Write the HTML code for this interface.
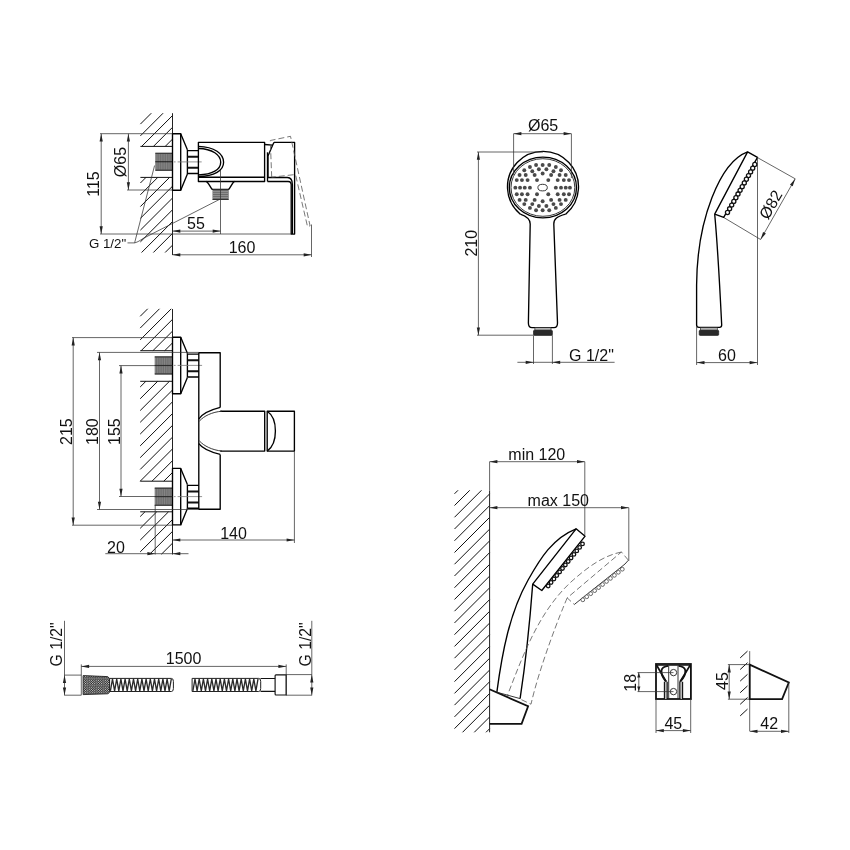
<!DOCTYPE html>
<html><head><meta charset="utf-8"><style>
html,body{margin:0;padding:0;background:#fff;}
svg{display:block;will-change:transform;}
text{font-family:"Liberation Sans",sans-serif;fill:#111;}
.o{stroke:#000;stroke-width:1.35;fill:none;stroke-linejoin:round;}
.o2{stroke:#222;stroke-width:1.0;fill:none;}
.o5{stroke:#111;stroke-width:1.8;fill:none;}
.o4{stroke:#111;stroke-width:1.15;fill:none;}
.o3{stroke:#222;stroke-width:0.9;fill:none;}
.d{stroke:#333;stroke-width:0.75;fill:none;}
.h{stroke:#111;stroke-width:1.0;fill:none;}
.ar{fill:#222;stroke:none;}
.nd{stroke:#111;stroke-width:2.0;fill:none;}
.cl{stroke:#777;stroke-width:0.8;stroke-dasharray:1.8 2 26 100;}
.dash{stroke:#555;stroke-width:0.8;fill:none;stroke-dasharray:6 3;}
.dash2{stroke:#666;stroke-width:0.8;fill:none;}
.th{fill:#6a6a6a;stroke:none;}
.thb{stroke:#111;stroke-width:0.9;}
.thl2{stroke:#b0b0b0;stroke-width:0.6;}
.thl{stroke:#a8a8a8;stroke-width:0.45;}
.kn{fill:url(#knp);stroke:#222;stroke-width:0.9;}
.hs{fill:#fff;stroke:#222;stroke-width:1.0;}
.hl{stroke:#2a2a2a;stroke-width:1.35;fill:none;stroke-linejoin:round;}
.noz{stroke:#111;stroke-width:1.3;fill:#fff;}
.noz2{stroke:#444;stroke-width:0.8;fill:#fff;}
.cb1{fill:#c8c8c8;stroke:#333;stroke-width:0.7;}
.cb2{fill:#2a2a2a;stroke:#111;stroke-width:0.6;}
.gb{fill:#bbb;stroke:none;}
.dot{fill:#4a4a4a;}
</style></head><body>
<svg width="850" height="850" viewBox="0 0 850 850">
<defs><pattern id="knp" width="2.3" height="2.3" patternUnits="userSpaceOnUse"><rect width="2.3" height="2.3" fill="#1a1a1a"/><circle cx="0.58" cy="0.58" r="0.55" fill="#fff"/><circle cx="1.73" cy="1.73" r="0.55" fill="#fff"/></pattern></defs>
<rect width="850" height="850" fill="#fff"/>
<line x1="140.40" y1="124.10" x2="151.30" y2="113.20" class="h"/>
<line x1="140.40" y1="135.88" x2="163.08" y2="113.20" class="h"/>
<line x1="141.66" y1="146.40" x2="172.50" y2="115.56" class="h"/>
<line x1="153.44" y1="146.40" x2="172.50" y2="127.34" class="h"/>
<line x1="165.22" y1="146.40" x2="172.50" y2="139.12" class="h"/>
<line x1="140.40" y1="183.00" x2="146.00" y2="177.40" class="h"/>
<line x1="140.40" y1="194.78" x2="157.78" y2="177.40" class="h"/>
<line x1="140.40" y1="206.56" x2="169.56" y2="177.40" class="h"/>
<line x1="140.40" y1="218.34" x2="172.50" y2="186.24" class="h"/>
<line x1="140.40" y1="230.12" x2="172.50" y2="198.02" class="h"/>
<line x1="140.40" y1="241.90" x2="172.50" y2="209.80" class="h"/>
<line x1="141.58" y1="252.50" x2="172.50" y2="221.58" class="h"/>
<line x1="153.36" y1="252.50" x2="172.50" y2="233.36" class="h"/>
<line x1="165.14" y1="252.50" x2="172.50" y2="245.14" class="h"/>
<line x1="140.40" y1="146.40" x2="172.50" y2="146.40" class="h"/>
<line x1="140.40" y1="177.40" x2="172.50" y2="177.40" class="h"/>
<line x1="172.50" y1="113.20" x2="172.50" y2="255.00" class="o2"/>
<rect x="155.30" y="153.20" width="17.20" height="17.10" class="th" />
<line x1="156.16" y1="154.00" x2="156.16" y2="169.50" class="thl"/>
<line x1="157.88" y1="154.00" x2="157.88" y2="169.50" class="thl"/>
<line x1="159.60" y1="154.00" x2="159.60" y2="169.50" class="thl"/>
<line x1="161.32" y1="154.00" x2="161.32" y2="169.50" class="thl"/>
<line x1="163.04" y1="154.00" x2="163.04" y2="169.50" class="thl"/>
<line x1="164.76" y1="154.00" x2="164.76" y2="169.50" class="thl"/>
<line x1="166.48" y1="154.00" x2="166.48" y2="169.50" class="thl"/>
<line x1="168.20" y1="154.00" x2="168.20" y2="169.50" class="thl"/>
<line x1="169.92" y1="154.00" x2="169.92" y2="169.50" class="thl"/>
<line x1="171.64" y1="154.00" x2="171.64" y2="169.50" class="thl"/>
<line x1="155.30" y1="153.20" x2="172.50" y2="153.20" class="thb"/>
<line x1="155.30" y1="170.30" x2="172.50" y2="170.30" class="thb"/>
<line x1="155.30" y1="161.75" x2="172.50" y2="161.75" class="thb"/>
<path d="M172.5 133.70000000000002 H180.7 V190.20000000000002 H172.5 Z" class="o" />
<path d="M180.7 133.70000000000002 L187.4 149.70000000000002 M180.7 190.20000000000002 L187.4 173.9" class="o" />
<path d="M187.4 150.6 H198.4 M187.4 173.5 H198.4 M187.4 149.70000000000002 V173.9" class="o" />
<path d="M187.4 156.70000000000002 H198.4 M187.4 167.70000000000002 H198.4" class="nd" />
<line x1="173.80" y1="161.90" x2="201.70" y2="161.90" class="cl"/>
<path d="M198.4 142.4 H264.6 V181.5 H198.4 Z" class="o" />
<line x1="198.40" y1="177.20" x2="264.60" y2="177.20" class="o"/>
<path d="M198.4 146.3 C214.5 146.6 223.6 154 223.6 162.2 C223.6 170.4 214.5 176.3 198.4 176.5" class="o" />
<path d="M198.4 148.5 C212.5 148.8 220.7 155 220.7 162.2 C220.7 169.4 212.5 174.7 198.4 174.9" class="o" />
<path d="M206.1 181.5 C208.5 182 210.5 188 212.3 189.4 H228.6 C230.5 188 232.5 182 234.5 181.5" class="o" />
<rect x="212.50" y="189.60" width="16.20" height="9.90" class="th" />
<line x1="213.00" y1="191.60" x2="228.20" y2="191.60" class="thl2"/>
<line x1="213.00" y1="193.40" x2="228.20" y2="193.40" class="thl2"/>
<line x1="213.00" y1="195.60" x2="228.20" y2="195.60" class="thl2"/>
<line x1="213.00" y1="197.60" x2="228.20" y2="197.60" class="thl2"/>
<line x1="212.50" y1="199.50" x2="228.70" y2="199.50" class="o3"/>
<line x1="220.50" y1="170.00" x2="220.50" y2="234.00" class="d"/>
<path d="M264.6 144.5 L272.6 145.2" class="o" />
<path d="M267.5 181.5 V152.3" class="o" />
<path d="M274 142.4 H294.6 V234.1 H291.2 V184.5 Q291.2 181.5 288.2 181.5 H267.5" class="o" />
<path d="M274 142.4 L272.6 145.2 L268 156 V177.5 H287.4 Q292.4 177.5 292.4 184.8 V234.1" class="o" />
<path d="M271.7 177.2 L270.3 140.5 L290.5 136.3 L310.1 225.9 L307.5 226.5 L295.5 174.5 L271.7 177.2" class="dash" />
<line x1="100.00" y1="133.70" x2="172.50" y2="133.70" class="d"/>
<line x1="101.20" y1="133.70" x2="101.20" y2="234.00" class="d"/>
<polygon points="101.20,133.70 102.80,141.50 99.60,141.50" class="ar"/>
<polygon points="101.20,234.00 99.60,226.20 102.80,226.20" class="ar"/>
<line x1="127.00" y1="190.00" x2="172.50" y2="190.00" class="d"/>
<line x1="128.40" y1="133.70" x2="128.40" y2="190.00" class="d"/>
<polygon points="128.40,133.70 130.00,141.50 126.80,141.50" class="ar"/>
<polygon points="128.40,190.00 126.80,182.20 130.00,182.20" class="ar"/>
<line x1="100.00" y1="234.00" x2="291.20" y2="234.00" class="d"/>
<line x1="172.50" y1="231.10" x2="220.50" y2="231.10" class="d"/>
<polygon points="172.50,231.10 180.30,229.50 180.30,232.70" class="ar"/>
<polygon points="220.50,231.10 212.70,232.70 212.70,229.50" class="ar"/>
<line x1="172.50" y1="254.80" x2="311.50" y2="254.80" class="d"/>
<polygon points="172.50,254.80 180.30,253.20 180.30,256.40" class="ar"/>
<polygon points="311.50,254.80 303.70,256.40 303.70,253.20" class="ar"/>
<line x1="311.50" y1="224.50" x2="311.50" y2="257.00" class="d"/>
<text x="99.00" y="184.00" font-size="16" text-anchor="middle" transform="rotate(-90 99.00 184.00)">115</text>
<text x="126.30" y="162.00" font-size="16" text-anchor="middle" transform="rotate(-90 126.30 162.00)">Ø65</text>
<text x="196.00" y="229.00" font-size="16" text-anchor="middle">55</text>
<text x="242.00" y="253.20" font-size="16" text-anchor="middle">160</text>
<text x="88.90" y="247.60" font-size="13.3" text-anchor="start">G 1/2&quot;</text>
<line x1="127.50" y1="242.90" x2="134.60" y2="242.90" class="d"/>
<line x1="134.60" y1="242.90" x2="154.60" y2="165.50" class="d"/>
<path d="M134.6 242.9 C138 242 140 240.5 143 238.5 L219.3 199.5" class="d" />
<line x1="140.20" y1="316.30" x2="147.70" y2="308.80" class="h"/>
<line x1="140.20" y1="328.08" x2="159.48" y2="308.80" class="h"/>
<line x1="140.20" y1="339.86" x2="171.26" y2="308.80" class="h"/>
<line x1="141.14" y1="350.70" x2="172.50" y2="319.34" class="h"/>
<line x1="152.92" y1="350.70" x2="172.50" y2="331.12" class="h"/>
<line x1="164.70" y1="350.70" x2="172.50" y2="342.90" class="h"/>
<line x1="140.20" y1="386.98" x2="145.88" y2="381.30" class="h"/>
<line x1="140.20" y1="398.76" x2="157.66" y2="381.30" class="h"/>
<line x1="140.20" y1="410.54" x2="169.44" y2="381.30" class="h"/>
<line x1="140.20" y1="422.32" x2="172.50" y2="390.02" class="h"/>
<line x1="140.20" y1="434.10" x2="172.50" y2="401.80" class="h"/>
<line x1="140.20" y1="445.88" x2="172.50" y2="413.58" class="h"/>
<line x1="140.20" y1="457.66" x2="172.50" y2="425.36" class="h"/>
<line x1="140.20" y1="469.44" x2="172.50" y2="437.14" class="h"/>
<line x1="140.22" y1="481.20" x2="172.50" y2="448.92" class="h"/>
<line x1="152.00" y1="481.20" x2="172.50" y2="460.70" class="h"/>
<line x1="163.78" y1="481.20" x2="172.50" y2="472.48" class="h"/>
<line x1="140.20" y1="516.56" x2="144.96" y2="511.80" class="h"/>
<line x1="140.20" y1="528.34" x2="156.74" y2="511.80" class="h"/>
<line x1="140.20" y1="540.12" x2="168.52" y2="511.80" class="h"/>
<line x1="140.20" y1="551.90" x2="172.50" y2="519.60" class="h"/>
<line x1="149.68" y1="554.20" x2="172.50" y2="531.38" class="h"/>
<line x1="161.46" y1="554.20" x2="172.50" y2="543.16" class="h"/>
<line x1="140.20" y1="350.70" x2="172.50" y2="350.70" class="h"/>
<line x1="140.20" y1="381.30" x2="172.50" y2="381.30" class="h"/>
<line x1="140.20" y1="481.20" x2="172.50" y2="481.20" class="h"/>
<line x1="140.20" y1="511.80" x2="172.50" y2="511.80" class="h"/>
<line x1="172.50" y1="309.00" x2="172.50" y2="554.50" class="o2"/>
<rect x="154.70" y="356.80" width="17.80" height="17.30" class="th" />
<line x1="155.59" y1="357.60" x2="155.59" y2="373.30" class="thl"/>
<line x1="157.37" y1="357.60" x2="157.37" y2="373.30" class="thl"/>
<line x1="159.15" y1="357.60" x2="159.15" y2="373.30" class="thl"/>
<line x1="160.93" y1="357.60" x2="160.93" y2="373.30" class="thl"/>
<line x1="162.71" y1="357.60" x2="162.71" y2="373.30" class="thl"/>
<line x1="164.49" y1="357.60" x2="164.49" y2="373.30" class="thl"/>
<line x1="166.27" y1="357.60" x2="166.27" y2="373.30" class="thl"/>
<line x1="168.05" y1="357.60" x2="168.05" y2="373.30" class="thl"/>
<line x1="169.83" y1="357.60" x2="169.83" y2="373.30" class="thl"/>
<line x1="171.61" y1="357.60" x2="171.61" y2="373.30" class="thl"/>
<line x1="154.70" y1="356.80" x2="172.50" y2="356.80" class="thb"/>
<line x1="154.70" y1="374.10" x2="172.50" y2="374.10" class="thb"/>
<line x1="154.70" y1="365.45" x2="172.50" y2="365.45" class="thb"/>
<path d="M172.5 337.2 H180.7 V393.7 H172.5 Z" class="o" />
<path d="M180.7 337.2 L187.4 353.2 M180.7 393.7 L187.4 377.4" class="o" />
<path d="M187.4 354.09999999999997 H198.8 M187.4 377.0 H198.8 M187.4 353.2 V377.4" class="o" />
<path d="M187.4 360.2 H198.8 M187.4 371.2 H198.8" class="nd" />
<line x1="173.80" y1="365.40" x2="202.10" y2="365.40" class="cl"/>
<rect x="154.70" y="488.00" width="17.80" height="17.30" class="th" />
<line x1="155.59" y1="488.80" x2="155.59" y2="504.50" class="thl"/>
<line x1="157.37" y1="488.80" x2="157.37" y2="504.50" class="thl"/>
<line x1="159.15" y1="488.80" x2="159.15" y2="504.50" class="thl"/>
<line x1="160.93" y1="488.80" x2="160.93" y2="504.50" class="thl"/>
<line x1="162.71" y1="488.80" x2="162.71" y2="504.50" class="thl"/>
<line x1="164.49" y1="488.80" x2="164.49" y2="504.50" class="thl"/>
<line x1="166.27" y1="488.80" x2="166.27" y2="504.50" class="thl"/>
<line x1="168.05" y1="488.80" x2="168.05" y2="504.50" class="thl"/>
<line x1="169.83" y1="488.80" x2="169.83" y2="504.50" class="thl"/>
<line x1="171.61" y1="488.80" x2="171.61" y2="504.50" class="thl"/>
<line x1="154.70" y1="488.00" x2="172.50" y2="488.00" class="thb"/>
<line x1="154.70" y1="505.30" x2="172.50" y2="505.30" class="thb"/>
<line x1="154.70" y1="496.65" x2="172.50" y2="496.65" class="thb"/>
<path d="M172.5 468.40000000000003 H180.7 V524.9 H172.5 Z" class="o" />
<path d="M180.7 468.40000000000003 L187.4 484.40000000000003 M180.7 524.9 L187.4 508.6" class="o" />
<path d="M187.4 485.3 H198.8 M187.4 508.20000000000005 H198.8 M187.4 484.40000000000003 V508.6" class="o" />
<path d="M187.4 491.40000000000003 H198.8 M187.4 502.40000000000003 H198.8" class="nd" />
<line x1="173.80" y1="496.60" x2="202.10" y2="496.60" class="cl"/>
<path d="M220.2 407.4 V352.7 H198.8 V509.2 H220.2 V454.4" class="o" />
<path d="M220.2 411.2 H264.7 V451.1 H220.2" class="o" />
<path d="M267.2 411.2 H294.4 V451.1 H267.2 Z" class="o" />
<path d="M220.2 407.4 C210 410 202 414 198.8 419 M220.2 454.4 C210 452 202 448 198.8 443.7" class="o" />
<path d="M222 411.2 C212 412 204 416 199.5 421 M222 451.1 C212 450 204 446 199.5 441" class="o3" />
<path d="M267.2 411.2 C273 415 275.4 423 275.4 431 C275.4 439 273 447 267.2 451.1" class="o" />
<line x1="72.00" y1="337.60" x2="172.50" y2="337.60" class="d"/>
<line x1="73.20" y1="337.60" x2="73.20" y2="525.20" class="d"/>
<polygon points="73.20,337.60 74.80,345.40 71.60,345.40" class="ar"/>
<polygon points="73.20,525.20 71.60,517.40 74.80,517.40" class="ar"/>
<line x1="97.00" y1="352.40" x2="198.80" y2="352.40" class="d"/>
<line x1="99.50" y1="352.40" x2="99.50" y2="509.50" class="d"/>
<polygon points="99.50,352.40 101.10,360.20 97.90,360.20" class="ar"/>
<polygon points="99.50,509.50 97.90,501.70 101.10,501.70" class="ar"/>
<line x1="119.00" y1="365.60" x2="172.50" y2="365.60" class="d"/>
<line x1="121.00" y1="365.60" x2="121.00" y2="496.50" class="d"/>
<polygon points="121.00,365.60 122.60,373.40 119.40,373.40" class="ar"/>
<polygon points="121.00,496.50 119.40,488.70 122.60,488.70" class="ar"/>
<line x1="72.00" y1="525.20" x2="172.50" y2="525.20" class="d"/>
<line x1="97.00" y1="509.50" x2="198.80" y2="509.50" class="d"/>
<line x1="119.00" y1="496.50" x2="172.50" y2="496.50" class="d"/>
<text x="71.70" y="431.60" font-size="16" text-anchor="middle" transform="rotate(-90 71.70 431.60)">215</text>
<text x="98.30" y="431.60" font-size="16" text-anchor="middle" transform="rotate(-90 98.30 431.60)">180</text>
<text x="119.90" y="431.60" font-size="16" text-anchor="middle" transform="rotate(-90 119.90 431.60)">155</text>
<line x1="294.40" y1="451.10" x2="294.40" y2="543.00" class="d"/>
<line x1="172.50" y1="540.00" x2="294.40" y2="540.00" class="d"/>
<polygon points="172.50,540.00 180.30,538.40 180.30,541.60" class="ar"/>
<polygon points="294.40,540.00 286.60,541.60 286.60,538.40" class="ar"/>
<text x="233.50" y="539.00" font-size="16" text-anchor="middle">140</text>
<line x1="155.20" y1="505.00" x2="155.20" y2="554.50" class="d"/>
<line x1="105.30" y1="553.70" x2="188.50" y2="553.70" class="d"/>
<polygon points="155.20,553.70 147.40,555.30 147.40,552.10" class="ar"/>
<polygon points="172.50,553.70 180.30,552.10 180.30,555.30" class="ar"/>
<text x="116.00" y="552.60" font-size="16" text-anchor="middle">20</text>
<line x1="64.50" y1="620.80" x2="64.50" y2="695.40" class="d"/>
<line x1="64.50" y1="675.10" x2="81.30" y2="675.10" class="d"/>
<line x1="64.50" y1="695.20" x2="81.30" y2="695.20" class="d"/>
<polygon points="64.50,675.10 66.10,682.90 62.90,682.90" class="ar"/>
<polygon points="64.50,695.20 62.90,687.40 66.10,687.40" class="ar"/>
<text x="62.10" y="644.40" font-size="15.7" text-anchor="middle" transform="rotate(-90 62.10 644.40)">G 1/2&quot;</text>
<line x1="81.30" y1="664.40" x2="81.30" y2="695.20" class="d"/>
<line x1="81.30" y1="666.40" x2="286.20" y2="666.40" class="d"/>
<polygon points="81.30,666.40 89.10,664.80 89.10,668.00" class="ar"/>
<polygon points="286.20,666.40 278.40,668.00 278.40,664.80" class="ar"/>
<text x="183.60" y="664.30" font-size="16" text-anchor="middle">1500</text>
<path d="M83.1 675.6 L107.5 676.6 Q109.6 677.7 109.6 679.5 V691.5 Q109.6 693.2 107.5 693.8 L83.1 694.6 Z" class="kn" />
<path d="M109.6 678.4 H171.4 Q173.4 678.4 173.4 681.4 V688.5 Q173.4 691.5 171.4 691.5 H109.6 L109.6 678.4" class="hs" />
<polyline points="110.40,690.90 112.50,679.00 114.60,690.90 116.70,679.00 118.80,690.90 120.90,679.00 123.00,690.90 125.10,679.00 127.20,690.90 129.30,679.00 131.40,690.90 133.50,679.00 135.60,690.90 137.70,679.00 139.80,690.90 141.90,679.00 144.00,690.90 146.10,679.00 148.20,690.90 150.30,679.00 152.40,690.90 154.50,679.00 156.60,690.90 158.70,679.00 160.80,690.90 162.90,679.00 165.00,690.90 167.10,679.00 169.20,690.90 171.30,679.00" class="hl"/>
<path d="M192.1 678.4 H258.7 Q260.7 678.4 260.7 681.4 V688.5 Q260.7 691.5 258.7 691.5 H192.1 L192.1 678.4" class="hs" />
<polyline points="192.90,690.90 195.00,679.00 197.10,690.90 199.20,679.00 201.30,690.90 203.40,679.00 205.50,690.90 207.60,679.00 209.70,690.90 211.80,679.00 213.90,690.90 216.00,679.00 218.10,690.90 220.20,679.00 222.30,690.90 224.40,679.00 226.50,690.90 228.60,679.00 230.70,690.90 232.80,679.00 234.90,690.90 237.00,679.00 239.10,690.90 241.20,679.00 243.30,690.90 245.40,679.00 247.50,690.90 249.60,679.00 251.70,690.90 253.80,679.00 255.90,690.90 258.00,679.00" class="hl"/>
<path d="M260.5 678.5 H275.1 M260.5 691.3 H275.1" class="o4" />
<path d="M276 674.8 H286.2 V695 H276 Q275.1 695 275.1 694 V675.8 Q275.1 674.8 276 674.8 Z" class="o4" />
<line x1="286.20" y1="664.40" x2="286.20" y2="695.20" class="d"/>
<line x1="286.20" y1="674.60" x2="311.80" y2="674.60" class="d"/>
<line x1="286.20" y1="695.20" x2="311.80" y2="695.20" class="d"/>
<line x1="311.80" y1="620.80" x2="311.80" y2="695.40" class="d"/>
<polygon points="311.80,674.60 313.40,682.40 310.20,682.40" class="ar"/>
<polygon points="311.80,695.20 310.20,687.40 313.40,687.40" class="ar"/>
<text x="310.60" y="644.40" font-size="15.7" text-anchor="middle" transform="rotate(-90 310.60 644.40)">G 1/2&quot;</text>
<path d="M520.3 214.2 A35.5 35.5 0 1 1 565.7 214.2" class="o" />
<ellipse cx="542.9" cy="187.5" rx="33.6" ry="30.4" class="o"/>
<ellipse cx="542.9" cy="187.5" rx="31.9" ry="28.8" class="o3"/>
<ellipse cx="542.6" cy="187.6" rx="4.7" ry="3.3" class="o3"/>
<circle cx="536.06" cy="165.06" r="1.95" class="dot"/>
<circle cx="542.65" cy="165.06" r="1.95" class="dot"/>
<circle cx="549.24" cy="165.06" r="1.95" class="dot"/>
<circle cx="529.94" cy="166.94" r="1.95" class="dot"/>
<circle cx="555.82" cy="166.94" r="1.95" class="dot"/>
<circle cx="538.88" cy="169.29" r="1.95" class="dot"/>
<circle cx="546.41" cy="169.29" r="1.95" class="dot"/>
<circle cx="524.29" cy="170.24" r="1.95" class="dot"/>
<circle cx="561.00" cy="170.24" r="1.95" class="dot"/>
<circle cx="532.29" cy="171.18" r="1.95" class="dot"/>
<circle cx="553.47" cy="171.18" r="1.95" class="dot"/>
<circle cx="542.65" cy="173.53" r="1.95" class="dot"/>
<circle cx="519.59" cy="174.94" r="1.95" class="dot"/>
<circle cx="525.71" cy="174.94" r="1.95" class="dot"/>
<circle cx="534.65" cy="174.94" r="1.95" class="dot"/>
<circle cx="551.12" cy="174.94" r="1.95" class="dot"/>
<circle cx="559.59" cy="174.94" r="1.95" class="dot"/>
<circle cx="565.71" cy="174.94" r="1.95" class="dot"/>
<circle cx="516.76" cy="180.12" r="1.95" class="dot"/>
<circle cx="521.94" cy="180.12" r="1.95" class="dot"/>
<circle cx="527.59" cy="180.12" r="1.95" class="dot"/>
<circle cx="537.00" cy="180.12" r="1.95" class="dot"/>
<circle cx="548.29" cy="180.12" r="1.95" class="dot"/>
<circle cx="557.71" cy="180.12" r="1.95" class="dot"/>
<circle cx="563.82" cy="180.12" r="1.95" class="dot"/>
<circle cx="569.00" cy="180.12" r="1.95" class="dot"/>
<circle cx="515.35" cy="187.65" r="1.95" class="dot"/>
<circle cx="520.06" cy="187.65" r="1.95" class="dot"/>
<circle cx="524.76" cy="187.65" r="1.95" class="dot"/>
<circle cx="529.94" cy="187.65" r="1.95" class="dot"/>
<circle cx="555.82" cy="187.65" r="1.95" class="dot"/>
<circle cx="561.00" cy="187.65" r="1.95" class="dot"/>
<circle cx="565.71" cy="187.65" r="1.95" class="dot"/>
<circle cx="569.94" cy="187.65" r="1.95" class="dot"/>
<circle cx="516.76" cy="194.24" r="1.95" class="dot"/>
<circle cx="521.94" cy="194.24" r="1.95" class="dot"/>
<circle cx="527.59" cy="194.24" r="1.95" class="dot"/>
<circle cx="537.00" cy="194.24" r="1.95" class="dot"/>
<circle cx="548.29" cy="194.24" r="1.95" class="dot"/>
<circle cx="557.71" cy="194.24" r="1.95" class="dot"/>
<circle cx="563.82" cy="194.24" r="1.95" class="dot"/>
<circle cx="569.00" cy="194.24" r="1.95" class="dot"/>
<circle cx="519.59" cy="199.88" r="1.95" class="dot"/>
<circle cx="525.71" cy="199.88" r="1.95" class="dot"/>
<circle cx="534.65" cy="199.88" r="1.95" class="dot"/>
<circle cx="551.12" cy="199.88" r="1.95" class="dot"/>
<circle cx="559.59" cy="199.88" r="1.95" class="dot"/>
<circle cx="565.71" cy="199.88" r="1.95" class="dot"/>
<circle cx="542.65" cy="201.29" r="1.95" class="dot"/>
<circle cx="524.29" cy="204.12" r="1.95" class="dot"/>
<circle cx="532.29" cy="204.12" r="1.95" class="dot"/>
<circle cx="553.47" cy="204.12" r="1.95" class="dot"/>
<circle cx="561.00" cy="204.12" r="1.95" class="dot"/>
<circle cx="538.88" cy="206.00" r="1.95" class="dot"/>
<circle cx="546.41" cy="206.00" r="1.95" class="dot"/>
<circle cx="529.94" cy="207.88" r="1.95" class="dot"/>
<circle cx="555.82" cy="207.88" r="1.95" class="dot"/>
<circle cx="536.06" cy="210.24" r="1.95" class="dot"/>
<circle cx="542.65" cy="210.24" r="1.95" class="dot"/>
<circle cx="549.24" cy="210.24" r="1.95" class="dot"/>
<path d="M520.3 214.2 C527 216.5 530.2 219 530.2 224 L528.4 323 Q528.4 327.6 532 327.6 H554 Q557.5 327.6 557.5 323 L553.8 224 C553.8 219 557 216.5 565.7 214.2" class="o" />
<rect x="534.90" y="327.80" width="16.10" height="2.40" class="cb1" />
<rect x="533.50" y="330.2" width="18.90" height="5.2" rx="1" class="cb2"/>
<line x1="513.60" y1="133.70" x2="513.60" y2="175.00" class="d"/>
<line x1="571.40" y1="133.70" x2="571.40" y2="178.00" class="d"/>
<line x1="513.60" y1="133.70" x2="571.40" y2="133.70" class="d"/>
<polygon points="513.60,133.70 521.40,132.10 521.40,135.30" class="ar"/>
<polygon points="571.40,133.70 563.60,135.30 563.60,132.10" class="ar"/>
<text x="543.10" y="130.60" font-size="16" text-anchor="middle">Ø65</text>
<line x1="477.00" y1="152.00" x2="543.00" y2="152.00" class="d"/>
<line x1="478.40" y1="152.00" x2="478.40" y2="335.20" class="d"/>
<polygon points="478.40,152.00 480.00,159.80 476.80,159.80" class="ar"/>
<polygon points="478.40,335.20 476.80,327.40 480.00,327.40" class="ar"/>
<line x1="477.00" y1="335.20" x2="533.00" y2="335.20" class="d"/>
<text x="476.60" y="243.20" font-size="16" text-anchor="middle" transform="rotate(-90 476.60 243.20)">210</text>
<line x1="533.50" y1="335.20" x2="533.50" y2="364.00" class="d"/>
<line x1="552.40" y1="335.20" x2="552.40" y2="364.00" class="d"/>
<line x1="517.40" y1="362.30" x2="614.60" y2="362.30" class="d"/>
<polygon points="533.50,362.30 525.70,363.90 525.70,360.70" class="ar"/>
<polygon points="552.40,362.30 560.20,360.70 560.20,363.90" class="ar"/>
<text x="569.00" y="360.60" font-size="16" text-anchor="start">G 1/2&quot;</text>
<path d="M747.6 151.9 L757.5 157.3 L723.7 217.4 L714.7 214.1 Z" class="o" />
<path d="M747.6 151.9 C720 162 697 220 696.6 285 V325 Q696.6 327.3 699 327.3 H719.5 Q721.7 327.3 721.7 325 Q718 250 714.7 214.1" class="o" />
<circle cx="754.80" cy="164.50" r="2.05" class="noz"/>
<circle cx="752.70" cy="168.19" r="2.05" class="noz"/>
<circle cx="750.60" cy="171.88" r="2.05" class="noz"/>
<circle cx="748.50" cy="175.58" r="2.05" class="noz"/>
<circle cx="746.40" cy="179.27" r="2.05" class="noz"/>
<circle cx="744.30" cy="182.96" r="2.05" class="noz"/>
<circle cx="742.20" cy="186.65" r="2.05" class="noz"/>
<circle cx="740.10" cy="190.35" r="2.05" class="noz"/>
<circle cx="738.00" cy="194.04" r="2.05" class="noz"/>
<circle cx="735.90" cy="197.73" r="2.05" class="noz"/>
<circle cx="733.80" cy="201.42" r="2.05" class="noz"/>
<circle cx="731.70" cy="205.12" r="2.05" class="noz"/>
<circle cx="729.60" cy="208.81" r="2.05" class="noz"/>
<circle cx="727.50" cy="212.50" r="2.05" class="noz"/>
<rect x="700.60" y="327.80" width="16.70" height="2.40" class="cb1" />
<rect x="699.20" y="330.2" width="19.50" height="5.2" rx="1" class="cb2"/>
<line x1="757.50" y1="157.60" x2="795.20" y2="178.80" class="d"/>
<line x1="723.90" y1="217.60" x2="760.60" y2="239.50" class="d"/>
<line x1="795.20" y1="178.80" x2="760.60" y2="239.50" class="d"/>
<polygon points="795.20,178.80 792.73,186.37 789.95,184.79" class="ar"/>
<polygon points="760.60,239.50 763.07,231.93 765.85,233.51" class="ar"/>
<text x="775.50" y="207.50" font-size="16" text-anchor="middle" transform="rotate(-60 775.50 207.50)">Ø82</text>
<line x1="757.50" y1="157.60" x2="757.50" y2="365.00" class="d"/>
<line x1="696.60" y1="327.00" x2="696.60" y2="365.00" class="d"/>
<line x1="696.70" y1="362.60" x2="757.40" y2="362.60" class="d"/>
<polygon points="696.70,362.60 704.50,361.00 704.50,364.20" class="ar"/>
<polygon points="757.40,362.60 749.60,364.20 749.60,361.00" class="ar"/>
<text x="727.00" y="361.10" font-size="16" text-anchor="middle">60</text>
<line x1="454.50" y1="493.80" x2="458.00" y2="490.30" class="h"/>
<line x1="454.50" y1="505.54" x2="469.74" y2="490.30" class="h"/>
<line x1="454.50" y1="517.28" x2="481.48" y2="490.30" class="h"/>
<line x1="454.50" y1="529.02" x2="489.60" y2="493.92" class="h"/>
<line x1="454.50" y1="540.76" x2="489.60" y2="505.66" class="h"/>
<line x1="454.50" y1="552.50" x2="489.60" y2="517.40" class="h"/>
<line x1="454.50" y1="564.24" x2="489.60" y2="529.14" class="h"/>
<line x1="454.50" y1="575.98" x2="489.60" y2="540.88" class="h"/>
<line x1="454.50" y1="587.72" x2="489.60" y2="552.62" class="h"/>
<line x1="454.50" y1="599.46" x2="489.60" y2="564.36" class="h"/>
<line x1="454.50" y1="611.20" x2="489.60" y2="576.10" class="h"/>
<line x1="454.50" y1="622.94" x2="489.60" y2="587.84" class="h"/>
<line x1="454.50" y1="634.68" x2="489.60" y2="599.58" class="h"/>
<line x1="454.50" y1="646.42" x2="489.60" y2="611.32" class="h"/>
<line x1="454.50" y1="658.16" x2="489.60" y2="623.06" class="h"/>
<line x1="454.50" y1="669.90" x2="489.60" y2="634.80" class="h"/>
<line x1="454.50" y1="681.64" x2="489.60" y2="646.54" class="h"/>
<line x1="454.50" y1="693.38" x2="489.60" y2="658.28" class="h"/>
<line x1="454.50" y1="705.12" x2="489.60" y2="670.02" class="h"/>
<line x1="454.50" y1="716.86" x2="489.60" y2="681.76" class="h"/>
<line x1="454.50" y1="728.60" x2="489.60" y2="693.50" class="h"/>
<line x1="462.54" y1="732.30" x2="489.60" y2="705.24" class="h"/>
<line x1="474.28" y1="732.30" x2="489.60" y2="716.98" class="h"/>
<line x1="486.02" y1="732.30" x2="489.60" y2="728.72" class="h"/>
<line x1="489.60" y1="461.70" x2="489.60" y2="490.60" class="d"/>
<line x1="489.60" y1="490.60" x2="489.60" y2="732.30" class="o2"/>
<line x1="489.60" y1="461.70" x2="584.80" y2="461.70" class="d"/>
<polygon points="489.60,461.70 497.40,460.10 497.40,463.30" class="ar"/>
<polygon points="584.80,461.70 577.00,463.30 577.00,460.10" class="ar"/>
<text x="536.80" y="460.00" font-size="16" text-anchor="middle">min 120</text>
<line x1="584.80" y1="461.70" x2="584.80" y2="535.00" class="d"/>
<line x1="489.60" y1="507.70" x2="628.80" y2="507.70" class="d"/>
<polygon points="489.60,507.70 497.40,506.10 497.40,509.30" class="ar"/>
<polygon points="628.80,507.70 621.00,509.30 621.00,506.10" class="ar"/>
<text x="558.30" y="506.20" font-size="16" text-anchor="middle">max 150</text>
<line x1="628.80" y1="507.70" x2="628.80" y2="560.70" class="d"/>
<path d="M576.1 528.8 L585.1 536.2 L541.8 590.5 L532.7 584.1 Z" class="o" />
<circle cx="582.50" cy="543.90" r="1.8" class="noz"/>
<circle cx="579.64" cy="547.41" r="1.8" class="noz"/>
<circle cx="576.78" cy="550.92" r="1.8" class="noz"/>
<circle cx="573.92" cy="554.42" r="1.8" class="noz"/>
<circle cx="571.07" cy="557.93" r="1.8" class="noz"/>
<circle cx="568.21" cy="561.44" r="1.8" class="noz"/>
<circle cx="565.35" cy="564.95" r="1.8" class="noz"/>
<circle cx="562.49" cy="568.46" r="1.8" class="noz"/>
<circle cx="559.63" cy="571.97" r="1.8" class="noz"/>
<circle cx="556.78" cy="575.48" r="1.8" class="noz"/>
<circle cx="553.92" cy="578.98" r="1.8" class="noz"/>
<circle cx="551.06" cy="582.49" r="1.8" class="noz"/>
<circle cx="548.20" cy="586.00" r="1.8" class="noz"/>
<path d="M576.1 528.8 C552.9 538 540.4 558.2 528.1 580 C509.5 613.1 502.2 652.4 496.9 691.8" class="o" />
<path d="M532.7 584.1 C530 620 526 660 520.1 698.6" class="o" />
<path d="M489.5 689.3 L528.1 706.2 L521.6 723.9 H489.5" class="o5" />
<path d="M496.8 692.2 L520.1 698.6" class="o3" />
<path d="M628.4 560.2 L621.4 552 L567.2 597.9 L574.3 604.5" class="dash" />
<line x1="628.40" y1="560.20" x2="625.00" y2="564.00" class="o3"/>
<line x1="574.30" y1="604.50" x2="578.00" y2="601.50" class="o3"/>
<line x1="625.00" y1="564.00" x2="578.00" y2="601.50" class="o3"/>
<path d="M621.4 552 C602.8 555.8 587.5 567.5 573.2 580 C539.5 609.7 523.4 654.2 507.2 696" class="dash" />
<path d="M567.2 597.9 C561 612 540 665 531 704.2 L518.7 698.4" class="dash" />
<circle cx="622.30" cy="569.20" r="1.9" class="noz2"/>
<circle cx="618.35" cy="572.26" r="1.9" class="noz2"/>
<circle cx="614.40" cy="575.32" r="1.9" class="noz2"/>
<circle cx="610.45" cy="578.38" r="1.9" class="noz2"/>
<circle cx="606.50" cy="581.44" r="1.9" class="noz2"/>
<circle cx="602.55" cy="584.50" r="1.9" class="noz2"/>
<circle cx="598.60" cy="587.56" r="1.9" class="noz2"/>
<circle cx="594.65" cy="590.62" r="1.9" class="noz2"/>
<circle cx="590.70" cy="593.68" r="1.9" class="noz2"/>
<circle cx="586.75" cy="596.74" r="1.9" class="noz2"/>
<circle cx="582.80" cy="599.80" r="1.9" class="noz2"/>
<rect x="656.00" y="664.00" width="34.90" height="35.00" class="o5" />
<line x1="656.00" y1="665.20" x2="690.90" y2="665.20" class="o4"/>
<path d="M656.6 665.1 L666.2 681.8 M690.2 665.1 L680.1 681.8" class="o5" />
<path d="M668.2 665.8 C664 666.5 662 667.5 661.6 670 C661 673 662 677 666.2 681.8" class="o5" />
<path d="M678.6 665.8 C682.8 666.5 684.8 667.5 685.2 670 C685.8 673 684.8 677 680.1 681.8" class="o5" />
<rect x="665.00" y="681.80" width="1.90" height="17.20" class="gb" />
<rect x="680.30" y="681.80" width="1.90" height="17.20" class="gb" />
<path d="M664.4 681.8 V699 M667.2 681.8 V699 M679.8 681.8 V699 M682.6 681.8 V699" class="o4" />
<path d="M668.7 665.8 V699 M678 665.8 V699" class="o3" />
<circle cx="673.5" cy="672.6" r="3.2" class="o3"/>
<circle cx="673.5" cy="691.6" r="3.2" class="o3"/>
<line x1="637.50" y1="672.60" x2="673.50" y2="672.60" class="d"/>
<line x1="637.50" y1="691.60" x2="673.50" y2="691.60" class="d"/>
<line x1="638.80" y1="672.60" x2="638.80" y2="691.60" class="d"/>
<polygon points="638.80,672.60 640.40,677.60 637.20,677.60" class="ar"/>
<polygon points="638.80,691.60 637.20,686.60 640.40,686.60" class="ar"/>
<text x="636.10" y="682.80" font-size="16" text-anchor="middle" transform="rotate(-90 636.10 682.80)">18</text>
<line x1="656.00" y1="698.90" x2="656.00" y2="733.00" class="d"/>
<line x1="690.70" y1="698.90" x2="690.70" y2="733.00" class="d"/>
<line x1="656.00" y1="730.60" x2="690.70" y2="730.60" class="d"/>
<polygon points="656.00,730.60 663.80,729.00 663.80,732.20" class="ar"/>
<polygon points="690.70,730.60 682.90,732.20 682.90,729.00" class="ar"/>
<text x="673.30" y="728.60" font-size="16" text-anchor="middle">45</text>
<line x1="749.70" y1="651.10" x2="749.70" y2="731.10" class="d"/>
<line x1="740.20" y1="657.90" x2="747.50" y2="651.10" class="h"/>
<line x1="740.20" y1="669.50" x2="747.50" y2="662.70" class="h"/>
<line x1="740.20" y1="681.10" x2="747.50" y2="674.30" class="h"/>
<line x1="740.20" y1="692.70" x2="747.50" y2="685.90" class="h"/>
<line x1="740.20" y1="704.30" x2="747.50" y2="697.50" class="h"/>
<line x1="740.20" y1="715.90" x2="747.50" y2="709.10" class="h"/>
<path d="M749.7 664.6 L788.8 682.5 L782.1 699.2 H749.7 Z" class="o5" />
<line x1="727.90" y1="664.60" x2="749.70" y2="664.60" class="d"/>
<line x1="727.90" y1="699.20" x2="749.70" y2="699.20" class="d"/>
<line x1="729.20" y1="664.60" x2="729.20" y2="699.20" class="d"/>
<polygon points="729.20,664.60 730.80,672.40 727.60,672.40" class="ar"/>
<polygon points="729.20,699.20 727.60,691.40 730.80,691.40" class="ar"/>
<text x="727.50" y="681.00" font-size="16" text-anchor="middle" transform="rotate(-90 727.50 681.00)">45</text>
<line x1="788.80" y1="682.50" x2="788.80" y2="733.00" class="d"/>
<line x1="749.70" y1="731.30" x2="788.80" y2="731.30" class="d"/>
<polygon points="749.70,731.30 757.50,729.70 757.50,732.90" class="ar"/>
<polygon points="788.80,731.30 781.00,732.90 781.00,729.70" class="ar"/>
<text x="769.20" y="728.60" font-size="16" text-anchor="middle">42</text>
</svg></body></html>
